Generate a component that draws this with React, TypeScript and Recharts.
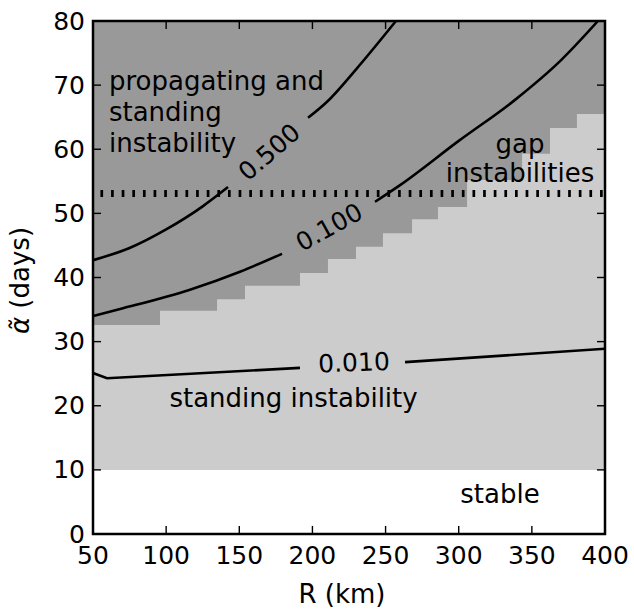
import React from 'react'
import {
  ComposedChart,
  XAxis,
  YAxis,
  Area,
  Line,
  ReferenceArea,
  ReferenceLine,
  ReferenceDot
} from 'recharts'

const xTicks = [50, 100, 150, 200, 250, 300, 350, 400]
const yTicks = [0, 10, 20, 30, 40, 50, 60, 70, 80]

// below this alpha everything is stable
const stableR = [50, 400]
const stableTop = 10
const alphaMax = 80

// staircase edge: propagating+standing above, standing only below
const edgeR = [50, 95.8, 134.8, 153.9, 191.5, 210.6, 229.8, 248.2, 268.1, 285.8, 305.7, 343.3, 362.4, 380.8, 400]
const edgeA = [32.6, 34.8, 36.6, 38.7, 40.7, 42.9, 44.8, 46.9, 49.1, 51.0, 55.2, 59.3, 63.3, 65.5, 65.5]

// contour 0.500 (two pieces, gap for the label)
const c500aR = [50, 75, 100, 125, 142.3]
const c500aA = [42.7, 44.6, 47.5, 51.1, 54.1]
const c500bR = [197, 210, 230, 257.1]
const c500bA = [64.9, 67.4, 72.5, 80]

// contour 0.100
const c100aR = [50, 70.5, 116.3, 150.5, 179.2]
const c100aA = [34.0, 35.2, 38.1, 40.9, 43.7]
const c100bR = [242.8, 259.9, 300, 338.5, 370, 395.2]
const c100bA = [51.8, 54.4, 61.3, 67.7, 73.9, 80]

// contour 0.010
const c010aR = [50, 59.6, 191.5]
const c010aA = [25.1, 24.3, 25.9]
const c010bR = [263.3, 400]
const c010bA = [26.8, 28.9]

// gap-instability cutoff
const gapAlpha = 53.1

const pts = (r: number[], a: number[]) => r.map((v, i) => ({ r: v, a: a[i] }))

const stableBand = stableR.map((r) => ({ r, band: [stableTop, alphaMax] }))
const edgeBand = edgeR.map((r, i) => ({ r, band: [edgeA[i], alphaMax] }))

const FONT = 'DejaVu Sans'
const TICK = 8

const BottomTick = (p: any) => (
  <text x={p.x} y={p.y + 30} textAnchor="middle" fontSize={25} fill="#000" fontFamily={FONT}>
    {p.payload.value}
  </text>
)

const LeftTick = (p: any) => (
  <text x={p.x - 8} y={p.y + 8.5} textAnchor="end" fontSize={25} fill="#000" fontFamily={FONT}>
    {p.payload.value}
  </text>
)

// inward tick marks, drawn at the frame in pixel lengths
const tickMark = (dx: number, dy: number) => (p: any) => (
  <path
    d={`M${p.cx},${p.cy}L${p.cx + dx},${p.cy + dy}`}
    stroke="#000"
    strokeWidth={1.4}
    fill="none"
  />
)

const note = (lines: string[], anchor: 'start' | 'middle', lineH = 30) => (p: any) => (
  <text x={p.cx} y={p.cy} textAnchor={anchor} fontSize={26} fill="#000" fontFamily={FONT}>
    {lines.map((l, i) => (
      <tspan key={i} x={p.cx} dy={i === 0 ? 0 : lineH}>{l}</tspan>
    ))}
  </text>
)

const contourLabel = (txt: string, angle: number) => (p: any) => (
  <text
    x={p.cx}
    y={p.cy}
    dy="0.36em"
    textAnchor="middle"
    fontSize={25}
    fill="#000"
    fontFamily={FONT}
    transform={`rotate(${angle} ${p.cx} ${p.cy})`}
  >
    {txt}
  </text>
)

const XTitle = (p: any) => {
  const vb = p.viewBox || { x: 93, y: 534, width: 512, height: 76 }
  return (
    <text x={vb.x + vb.width / 2 - 7} y={vb.y + 69} textAnchor="middle" fontSize={26} fill="#000" fontFamily={FONT}>
      R (km)
    </text>
  )
}

const YTitle = (p: any) => {
  const vb = p.viewBox || { x: 0, y: 21, width: 93, height: 513 }
  const x = vb.x + 29
  const y = vb.y + vb.height / 2 + 3
  return (
    <text x={x} y={y} textAnchor="middle" fontSize={26} fill="#000" fontFamily={FONT} transform={`rotate(-90 ${x} ${y})`}>
      <tspan fontStyle="italic" fontWeight={300}>{'\u03B1\u0303'}</tspan>
      <tspan> (days)</tspan>
    </text>
  )
}

const innerX = xTicks.slice(1, -1)
const innerY = yTicks.slice(1, -1)

export default function App() {
  return (
    <div style={{ position: 'absolute', left: 0, top: 0, background: '#fff' }}>
      <ComposedChart
        width={634}
        height={610}
        margin={{ top: 21, right: 29, left: 0, bottom: 0 }}
        style={{ fontFamily: FONT }}
      >
        <XAxis
          type="number"
          dataKey="r"
          domain={[50, 400]}
          ticks={xTicks}
          allowDataOverflow
          height={76}
          axisLine={false}
          tickLine={false}
          tickSize={0}
          tickMargin={0}
          tick={BottomTick}
          interval={0}
          label={{ content: XTitle }}
        />
        <YAxis
          type="number"
          domain={[0, 80]}
          ticks={yTicks}
          allowDataOverflow
          width={93}
          axisLine={false}
          tickLine={false}
          tickSize={0}
          tickMargin={0}
          tick={LeftTick}
          interval={0}
          label={{ content: YTitle }}
        />

        <Area
          data={stableBand}
          dataKey="band"
          type="linear"
          fill="#cccccc"
          fillOpacity={1}
          stroke="none"
          isAnimationActive={false}
        />
        <Area
          data={edgeBand}
          dataKey="band"
          type="stepAfter"
          fill="#999999"
          fillOpacity={1}
          stroke="none"
          isAnimationActive={false}
        />

        <ReferenceLine
          y={gapAlpha}
          stroke="#000"
          strokeWidth={7}
          strokeDasharray="2.7 7.93"
          strokeDashoffset={3.2}
        />

        {[
          [c500aR, c500aA, 'monotone'],
          [c500bR, c500bA, 'monotone'],
          [c100aR, c100aA, 'monotone'],
          [c100bR, c100bA, 'monotone'],
          [c010aR, c010aA, 'linear'],
          [c010bR, c010bA, 'linear']
        ].map(([r, a, t], i) => (
          <Line
            key={i}
            data={pts(r as number[], a as number[])}
            dataKey="a"
            type={t as any}
            stroke="#000"
            strokeWidth={2.6}
            dot={false}
            activeDot={false}
            isAnimationActive={false}
          />
        ))}

        <ReferenceDot x={170.3} y={59.6} r={0} shape={contourLabel('0.500', -41)} />
        <ReferenceDot x={211.3} y={47.9} r={0} shape={contourLabel('0.100', -29)} />
        <ReferenceDot x={228.4} y={26.8} r={0} shape={contourLabel('0.010', -2)} />

        <ReferenceDot x={60.9} y={69.2} r={0} shape={note(['propagating and', 'standing', 'instability'], 'start', 31)} />
        <ReferenceDot x={341.9} y={59.4} r={0} shape={note(['gap', 'instabilities'], 'middle', 29)} />
        <ReferenceDot x={187.1} y={19.8} r={0} shape={note(['standing instability'], 'middle')} />
        <ReferenceDot x={328.2} y={4.8} r={0} shape={note(['stable'], 'middle')} />

        {innerX.map((v) => (
          <ReferenceDot key={`b${v}`} x={v} y={0.01} r={1} ifOverflow="visible" shape={tickMark(0, -TICK)} />
        ))}
        {innerX.map((v) => (
          <ReferenceDot key={`t${v}`} x={v} y={79.99} r={1} ifOverflow="visible" shape={tickMark(0, TICK)} />
        ))}
        {innerY.map((v) => (
          <ReferenceDot key={`l${v}`} x={50.01} y={v} r={1} ifOverflow="visible" shape={tickMark(TICK, 0)} />
        ))}
        {innerY.map((v) => (
          <ReferenceDot key={`r${v}`} x={399.99} y={v} r={1} ifOverflow="visible" shape={tickMark(-TICK, 0)} />
        ))}

        <ReferenceArea
          x1={50}
          x2={400}
          y1={0}
          y2={80}
          fill="none"
          fillOpacity={0}
          stroke="#000"
          strokeWidth={2.5}
        />
      </ComposedChart>
    </div>
  )
}
